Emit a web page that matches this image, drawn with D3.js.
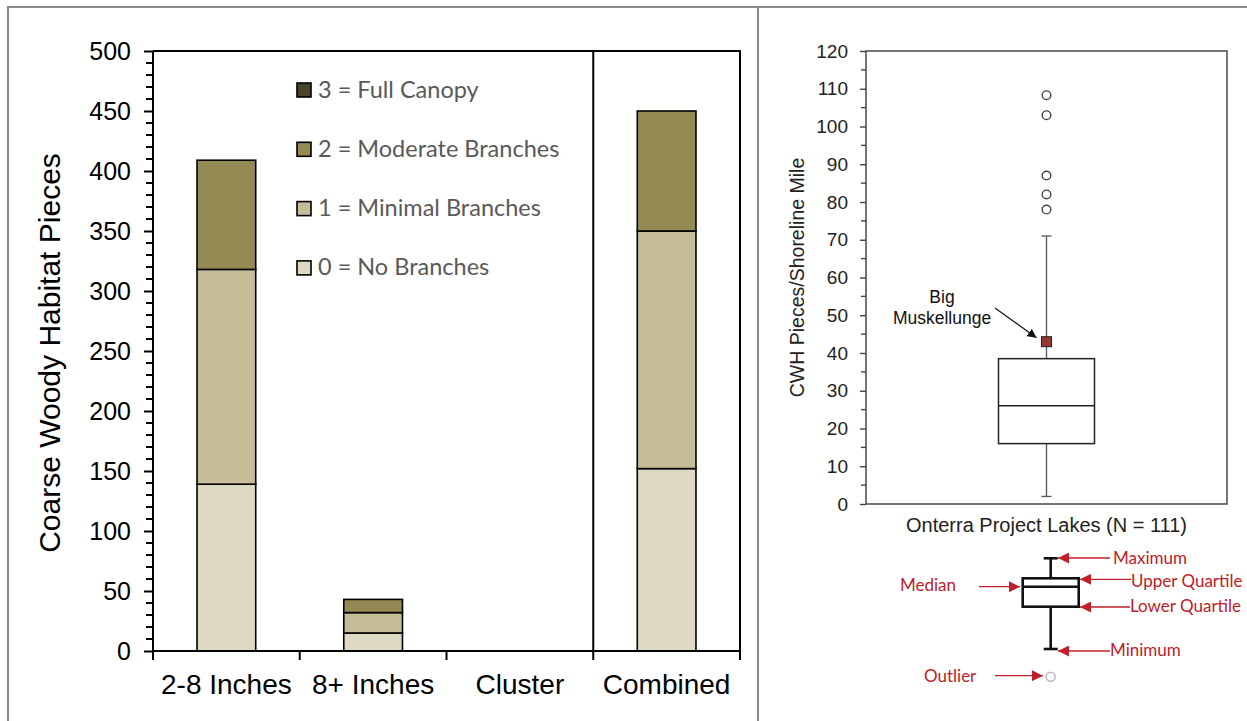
<!DOCTYPE html>
<html><head><meta charset="utf-8">
<script src="https://cdn.jsdelivr.net/npm/d3@7"></script>
<style>body{margin:0;background:#fff}svg{display:block}</style>
</head><body>
<svg id="c" width="1247" height="721"></svg>
<script>
// ---- Left chart data ----
const categories = ["2-8 Inches", "8+ Inches", "Cluster", "Combined"];
const seriesNames = ["0 = No Branches", "1 = Minimal Branches", "2 = Moderate Branches", "3 = Full Canopy"];
const noBranches = [139, 15, 0, 152];
const minimalBranches = [179, 17, 0, 198];
const moderateBranches = [91, 11, 0, 100];
const fullCanopy = [0, 0, 0, 0];
const seriesColors = ["#ddd9c3", "#c4bd97", "#948a54", "#4a452a"];
const leftTicks = [0, 50, 100, 150, 200, 250, 300, 350, 400, 450, 500];

// ---- Right chart data (box plot) ----
const boxStats = [2, 16, 26, 38.5, 71]; // min, q1, median, q3, max
const outliers = [78, 82, 87, 103, 108.3];
const bigMuskellunge = 43;
const rightTicks = [0, 10, 20, 30, 40, 50, 60, 70, 80, 90, 100, 110, 120];

const svg = d3.select("#c");

// frame
svg.append("line").attr("x1", 8).attr("x2", 1247).attr("y1", 7).attr("y2", 7).attr("stroke", "#898989").attr("stroke-width", 2);
svg.append("line").attr("x1", 8).attr("x2", 8).attr("y1", 6).attr("y2", 721).attr("stroke", "#898989").attr("stroke-width", 2);
svg.append("line").attr("x1", 758).attr("x2", 758).attr("y1", 6).attr("y2", 721).attr("stroke", "#898989").attr("stroke-width", 2);

// ===== Left chart =====
const L = {x0: 153, x1: 740, y0: 651, y1: 51};
const x = d3.scaleBand().domain(categories).range([L.x0, L.x1]).paddingInner(0.6).paddingOuter(0.3);
const y = d3.scaleLinear().domain([0, 500]).range([L.y0, L.y1]);

const table = categories.map((c, i) => ({cat: c, s0: noBranches[i], s1: minimalBranches[i], s2: moderateBranches[i], s3: fullCanopy[i]}));
const stack = d3.stack().keys(["s0", "s1", "s2", "s3"])(table);

const gL = svg.append("g");
stack.forEach((layer, li) => {
  gL.selectAll(null).data(layer.filter(d => d[1] - d[0] > 0)).enter().append("rect")
    .attr("x", d => x(d.data.cat))
    .attr("width", x.bandwidth())
    .attr("y", d => y(d[1]))
    .attr("height", d => y(d[0]) - y(d[1]))
    .attr("fill", seriesColors[li])
    .attr("stroke", "#000").attr("stroke-width", 1.6);
});

// y axis
const yAxis = d3.axisLeft(y).tickValues(leftTicks).tickSize(9).tickPadding(13);
const gy = svg.append("g").attr("transform", `translate(${L.x0},0)`).call(yAxis);
gy.select(".domain").attr("stroke-width", 2).attr("d", `M0,${L.y1}V${L.y0}`);
gy.selectAll(".tick line").attr("stroke-width", 2);
gy.selectAll("text").attr("font-family", "Liberation Sans, Arial, sans-serif").attr("font-size", 25).attr("fill", "#000");
// minor ticks
const minorL = d3.range(0, 501, 10).filter(v => v % 50 !== 0);
svg.append("g").selectAll("line").data(minorL).enter().append("line")
  .attr("x1", L.x0 - 7).attr("x2", L.x0).attr("y1", d => y(d)).attr("y2", d => y(d))
  .attr("stroke", "#000").attr("stroke-width", 2);

// x axis
const xAxis = d3.axisBottom(x).tickSize(0).tickPadding(23);
const gx = svg.append("g").attr("transform", `translate(0,${L.y0})`).call(xAxis);
gx.select(".domain").attr("stroke-width", 2).attr("d", `M${L.x0},0H${L.x1}`);
gx.selectAll("text").attr("font-family", "Liberation Sans, Arial, sans-serif").attr("font-size", 28).attr("fill", "#000").attr("dy", "0.71em");
// boundary ticks
const bounds = d3.range(categories.length + 1).map(i => L.x0 + i * (L.x1 - L.x0) / categories.length);
svg.append("g").selectAll("line").data(bounds).enter().append("line")
  .attr("x1", d => d).attr("x2", d => d).attr("y1", L.y0).attr("y2", L.y0 + 9)
  .attr("stroke", "#000").attr("stroke-width", 2);
// separator before Combined and frame
svg.append("line").attr("x1", bounds[3]).attr("x2", bounds[3]).attr("y1", L.y1).attr("y2", L.y0).attr("stroke", "#000").attr("stroke-width", 2);
svg.append("path").attr("d", `M${L.x0},${L.y1}H${L.x1}V${L.y0}`).attr("fill", "none").attr("stroke", "#000").attr("stroke-width", 2);

// y title
svg.append("text").attr("transform", `translate(60,${(L.y0 + L.y1) / 2 + 2}) rotate(-90)`)
  .attr("text-anchor", "middle").attr("font-family", "Liberation Sans, Arial, sans-serif").attr("font-size", 30).attr("fill", "#000")
  .text("Coarse Woody Habitat Pieces");

// legend
const legOrder = [3, 2, 1, 0];
const leg = svg.append("g");
legOrder.forEach((si, k) => {
  const cy = 90 + k * 59.3;
  leg.append("rect").attr("x", 297).attr("y", cy - 7).attr("width", 14).attr("height", 14)
    .attr("fill", seriesColors[si]).attr("stroke", "#000").attr("stroke-width", 1.6);
  leg.append("text").attr("x", 318).attr("y", cy + 7.5).attr("font-family", "Lato, 'Open Sans', sans-serif")
    .attr("font-size", 23.5).attr("fill", "#595959").text(seriesNames[si]);
});

// ===== Right chart =====
const R = {x0: 866, x1: 1227, y0: 504, y1: 51};
const xr = d3.scalePoint().domain(["Onterra Project Lakes (N = 111)"]).range([R.x0, R.x1]).padding(0.5);
const yr = d3.scaleLinear().domain([0, 120]).range([R.y0, R.y1]);
const cx = xr("Onterra Project Lakes (N = 111)");
const gR = svg.append("g");

gR.append("rect").attr("x", R.x0).attr("y", R.y1).attr("width", R.x1 - R.x0).attr("height", R.y0 - R.y1)
  .attr("fill", "none").attr("stroke", "#555").attr("stroke-width", 1.6);

const yrAxis = d3.axisLeft(yr).tickValues(rightTicks).tickSize(6).tickPadding(12);
const gyr = svg.append("g").attr("transform", `translate(${R.x0},0)`).call(yrAxis);
gyr.select(".domain").remove();
gyr.selectAll(".tick line").attr("stroke", "#444").attr("stroke-width", 1.4);
gyr.selectAll("text").attr("font-family", "Liberation Sans, Arial, sans-serif").attr("font-size", 19).attr("fill", "#222");
const minorR = d3.range(5, 120, 10);
svg.append("g").selectAll("line").data(minorR).enter().append("line")
  .attr("x1", R.x0 - 5).attr("x2", R.x0).attr("y1", d => yr(d)).attr("y2", d => yr(d))
  .attr("stroke", "#444").attr("stroke-width", 1.4);

// whiskers
const boxW = 96, capW = 10;
gR.append("line").attr("x1", cx).attr("x2", cx).attr("y1", yr(boxStats[3])).attr("y2", yr(boxStats[4])).attr("stroke", "#555").attr("stroke-width", 1.3);
gR.append("line").attr("x1", cx).attr("x2", cx).attr("y1", yr(boxStats[0])).attr("y2", yr(boxStats[1])).attr("stroke", "#555").attr("stroke-width", 1.3);
[boxStats[0], boxStats[4]].forEach(v => gR.append("line").attr("x1", cx - capW / 2).attr("x2", cx + capW / 2).attr("y1", yr(v)).attr("y2", yr(v)).attr("stroke", "#555").attr("stroke-width", 1.3));
gR.append("rect").attr("x", cx - boxW / 2).attr("width", boxW).attr("y", yr(boxStats[3])).attr("height", yr(boxStats[1]) - yr(boxStats[3]))
  .attr("fill", "#fff").attr("stroke", "#222").attr("stroke-width", 1.5);
gR.append("line").attr("x1", cx - boxW / 2).attr("x2", cx + boxW / 2).attr("y1", yr(boxStats[2])).attr("y2", yr(boxStats[2])).attr("stroke", "#222").attr("stroke-width", 1.5);
gR.selectAll("circle.o").data(outliers).enter().append("circle").attr("class", "o")
  .attr("cx", cx).attr("cy", d => yr(d)).attr("r", 4.3).attr("fill", "#fff").attr("stroke", "#444").attr("stroke-width", 1.4);
gR.append("rect").attr("x", cx - 5).attr("y", yr(bigMuskellunge) - 5).attr("width", 10).attr("height", 10)
  .attr("fill", "#953735").attr("stroke", "#222").attr("stroke-width", 1);

// annotation
const defs = svg.append("defs");
defs.append("marker").attr("id", "ah").attr("viewBox", "0 0 10 10").attr("refX", 10).attr("refY", 5)
  .attr("markerWidth", 9).attr("markerHeight", 9).attr("markerUnits", "userSpaceOnUse").attr("orient", "auto")
  .append("path").attr("d", "M0,0L10,5L0,10z").attr("fill", "#111");
defs.append("marker").attr("id", "ahr").attr("viewBox", "0 0 10 10").attr("refX", 10).attr("refY", 5)
  .attr("markerWidth", 11).attr("markerHeight", 11).attr("markerUnits", "userSpaceOnUse").attr("orient", "auto")
  .append("path").attr("d", "M0,0L10,5L0,10z").attr("fill", "#c0202a");

gR.append("line").attr("x1", 995).attr("y1", 308).attr("x2", cx - 10).attr("y2", yr(bigMuskellunge) - 4)
  .attr("stroke", "#111").attr("stroke-width", 1.2).attr("marker-end", "url(#ah)");
const annF = "Liberation Sans, Arial, sans-serif";
gR.append("text").attr("x", 942).attr("y", 303).attr("text-anchor", "middle").attr("font-family", annF).attr("font-size", 17.5).attr("fill", "#111").text("Big");
gR.append("text").attr("x", 942).attr("y", 324).attr("text-anchor", "middle").attr("font-family", annF).attr("font-size", 17.5).attr("fill", "#111").text("Muskellunge");

// right axis titles
svg.append("text").attr("transform", `translate(804,${(R.y0 + R.y1) / 2}) rotate(-90)`).attr("text-anchor", "middle")
  .attr("font-family", annF).attr("font-size", 19.5).attr("fill", "#222").text("CWH Pieces/Shoreline Mile");
svg.append("text").attr("x", cx).attr("y", 532).attr("text-anchor", "middle")
  .attr("font-family", annF).attr("font-size", 20).attr("fill", "#222").text("Onterra Project Lakes (N = 111)");

// ===== Box plot key =====
const K = svg.append("g");
const kx = 1050.7, kbl = 1022.7, kbr = 1078.7;
const kMax = 558.3, kQ3 = 578.3, kMed = 586.7, kQ1 = 606.7, kMin = 649;
const ks = {stroke: "#111", w: 2.6};
K.append("line").attr("x1", kx).attr("x2", kx).attr("y1", kMax).attr("y2", kQ3).attr("stroke", ks.stroke).attr("stroke-width", ks.w);
K.append("line").attr("x1", kx).attr("x2", kx).attr("y1", kQ1).attr("y2", kMin).attr("stroke", ks.stroke).attr("stroke-width", ks.w);
[kMax, kMin].forEach(v => K.append("line").attr("x1", kx - 7).attr("x2", kx + 7).attr("y1", v).attr("y2", v).attr("stroke", ks.stroke).attr("stroke-width", ks.w));
K.append("rect").attr("x", kbl).attr("y", kQ3).attr("width", kbr - kbl).attr("height", kQ1 - kQ3).attr("fill", "#fff").attr("stroke", ks.stroke).attr("stroke-width", ks.w);
K.append("line").attr("x1", kbl).attr("x2", kbr).attr("y1", kMed).attr("y2", kMed).attr("stroke", ks.stroke).attr("stroke-width", ks.w);
K.append("circle").attr("cx", kx).attr("cy", 676.7).attr("r", 4.5).attr("fill", "#fff").attr("stroke", "#bbb").attr("stroke-width", 1.5);

const red = "#c0202a";
const keyF = "Lato, 'Open Sans', sans-serif";
const keys = [
  {t: "Maximum", tx: 1113, ty: 564, ax1: 1110, ax2: 1058, ay: 558},
  {t: "Upper Quartile", tx: 1131, ty: 586.5, ax1: 1131, ax2: 1080, ay: 579.3},
  {t: "Lower Quartile", tx: 1130, ty: 611.5, ax1: 1130, ax2: 1080, ay: 607},
  {t: "Minimum", tx: 1110, ty: 656, ax1: 1110, ax2: 1058, ay: 651},
  {t: "Median", tx: 900, ty: 590.7, ax1: 979, ax2: 1020, ay: 586.7},
  {t: "Outlier", tx: 924, ty: 681.7, ax1: 995, ax2: 1043, ay: 675.7}
];
keys.forEach(k => {
  K.append("line").attr("x1", k.ax1).attr("x2", k.ax2).attr("y1", k.ay).attr("y2", k.ay)
    .attr("stroke", red).attr("stroke-width", 1.3).attr("marker-end", "url(#ahr)");
  K.append("text").attr("x", k.tx).attr("y", k.ty).attr("font-family", keyF).attr("font-size", 17).attr("fill", red).text(k.t);
});
</script>
</body></html>
